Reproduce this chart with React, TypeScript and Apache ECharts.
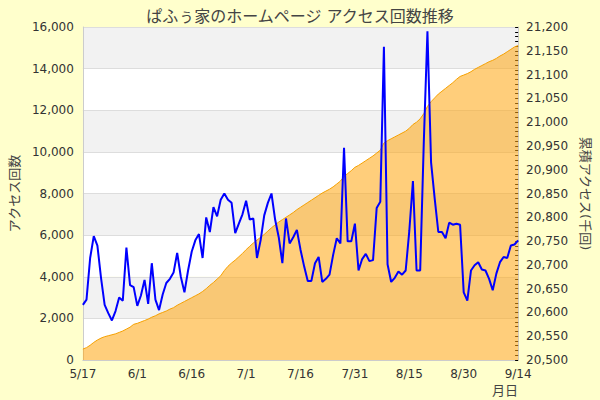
import React, { useEffect, useRef } from 'react';
import * as echarts from 'echarts';

// daily access counts, 5/17 .. 9/14
const dailyAccess = [
  2650, 2900, 4900, 5950, 5500, 3950, 2650, 2250, 1900, 2350,
  3000, 2850, 5400, 3600, 3500, 2600, 3100, 3850, 2700, 4650,
  2900, 2400, 3150, 3700, 3900, 4200, 5150, 4000, 3250, 4300,
  5200, 5750, 6050, 4900, 6850, 6150, 7350, 6900, 7700, 8000,
  7700, 7550, 6100, 6550, 7000, 7650, 6750, 6800, 4900, 5750,
  6950, 7550, 8000, 6750, 5900, 4650, 6800, 5600, 5900, 6250,
  5300, 4500, 3800, 3800, 4650, 4950, 3750, 3900, 4100, 5050,
  5850, 5600, 10200, 5700, 5700, 6550, 4300, 4850, 5100, 4750,
  4800, 7300, 7600, 15050, 4600, 3750, 3950, 4250, 4100, 4300,
  6200, 8600, 4300, 4300, 10500, 15800, 9500, 7750, 6150, 6150,
  5850, 6600, 6500, 6550, 6500, 3250, 2850, 4300, 4550, 4700,
  4350, 4300, 3900, 3350, 4150, 4700, 4950, 4900, 5500, 5550,
  5750,
];

// cumulative accesses (thousands)
const cumulative = [
  20523, 20526, 20531, 20537, 20542, 20546, 20549, 20551, 20553, 20555,
  20558, 20561, 20565, 20569, 20575, 20577, 20580, 20583, 20586, 20590,
  20593, 20597, 20600, 20603, 20607, 20610, 20615, 20619, 20623, 20627,
  20631, 20635, 20639, 20644, 20650, 20657, 20663, 20670, 20677, 20688,
  20697, 20704, 20710, 20717, 20724, 20732, 20739, 20746, 20752, 20758,
  20764, 20771, 20778, 20784, 20790, 20795, 20800, 20805, 20810, 20816,
  20821, 20826, 20831, 20836, 20841, 20846, 20851, 20855, 20859, 20864,
  20870, 20876, 20886, 20892, 20898, 20905, 20909, 20914, 20919, 20924,
  20929, 20935, 20941, 20956, 20961, 20965, 20969, 20973, 20977, 20981,
  20987, 20995, 21000, 21007, 21018, 21033, 21043, 21051, 21059, 21065,
  21071, 21077, 21083, 21090, 21096, 21099, 21102, 21106, 21111, 21115,
  21119, 21123, 21127, 21130, 21134, 21139, 21143, 21148, 21153, 21158,
  21161,
];

// M/D labels, one per day
const days: string[] = [];
for (let i = 0; i < dailyAccess.length; i++) {
  const dt = new Date(2015, 4, 17 + i);
  days.push(`${dt.getMonth() + 1}/${dt.getDate()}`);
}

const FONT = '"DejaVu Sans", "Noto Sans CJK JP", sans-serif';
const fmt = (v: number) => v.toLocaleString('en-US');

export default function App() {
  const chartRef = useRef<HTMLDivElement>(null);

  useEffect(() => {
    if (!chartRef.current) return;
    const chart = echarts.init(chartRef.current, null, { renderer: 'svg' });

    chart.setOption({
      animation: false,
      backgroundColor: '#ffffcc',
      textStyle: { fontFamily: FONT },
      title: {
        text: 'ぱふぅ家のホームページ アクセス回数推移',
        left: 'center',
        top: 3,
        textStyle: { fontSize: 16, fontWeight: 'normal', color: '#444', fontFamily: FONT },
      },
      grid: { left: 60, right: 80, top: 27, bottom: 40 },
      xAxis: {
        type: 'category',
        data: days,
        boundaryGap: false,
        name: '月日',
        nameLocation: 'end',
        nameGap: 0,
        nameTextStyle: { color: '#444', fontSize: 13, align: 'right', verticalAlign: 'top', padding: [24, 0, 0, 0] },
        axisLine: { lineStyle: { color: '#ccc' } },
        axisTick: { show: false },
        axisLabel: { interval: 14, color: '#333', fontSize: 12, margin: 8 },
      },
      yAxis: [
        {
          type: 'value',
          min: 0,
          max: 16000,
          interval: 2000,
          name: 'アクセス回数',
          nameLocation: 'middle',
          nameGap: 46,
          nameTextStyle: { color: '#444', fontSize: 13 },
          axisLine: { show: true, lineStyle: { color: '#ccc' } },
          axisTick: { show: false },
          axisLabel: { color: '#333', fontSize: 12, margin: 9, formatter: fmt },
          splitLine: { lineStyle: { color: '#ddd' } },
          splitArea: { show: true, areaStyle: { color: ['#ffffff', '#f2f2f2'] } },
        },
        {
          type: 'value',
          min: 20500,
          max: 21200,
          interval: 50,
          position: 'right',
          name: '累積アクセス(千回)',
          nameLocation: 'middle',
          nameGap: 49,
          nameRotate: -90,
          nameTextStyle: { color: '#444', fontSize: 13 },
          axisLine: { show: true, lineStyle: { color: '#ccc' } },
          axisTick: { show: true, inside: true, length: 3, lineStyle: { color: '#000' } },
          minorTick: { show: true, splitNumber: 5, length: 3, lineStyle: { color: '#000' } },
          axisLabel: { color: '#333', fontSize: 12, margin: 8, formatter: fmt },
          splitLine: { show: false },
        },
      ],
      series: [
        {
          name: '累積アクセス',
          type: 'line',
          yAxisIndex: 1,
          data: cumulative,
          showSymbol: false,
          lineStyle: { color: '#f5a000', width: 1 },
          areaStyle: { color: 'rgba(255,165,15,0.55)', opacity: 1 },
          z: 2,
        },
        {
          name: 'アクセス回数',
          type: 'line',
          yAxisIndex: 0,
          data: dailyAccess,
          showSymbol: false,
          lineStyle: { color: '#0000ff', width: 2 },
          z: 3,
        },
      ],
    });

    return () => {
      chart.dispose();
    };
  }, []);

  return (
    <div
      ref={chartRef}
      style={{ position: 'fixed', left: 0, top: 0, width: 600, height: 400 }}
    ></div>
  );
}
